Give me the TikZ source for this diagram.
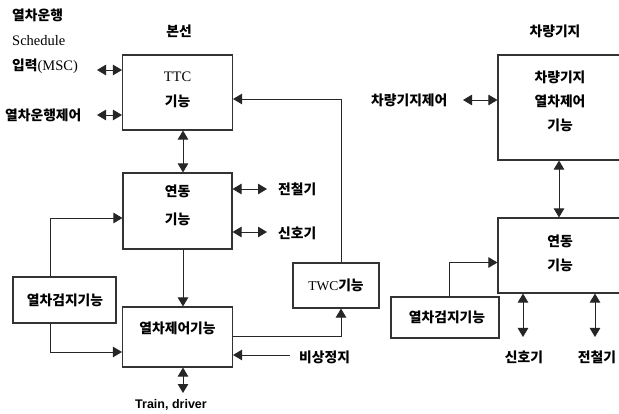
\documentclass[tikz,border=0pt]{standalone}
\usepackage{fontspec}
\setmainfont{Liberation Serif}
\newfontfamily\kr{Noto Sans CJK KR}
\newfontfamily\lsans{Liberation Sans}
\usetikzlibrary{arrows.meta}
\newcommand\krf{\kr\bfseries\fontsize{13.8}{15}\selectfont}
\begin{document}
\begin{tikzpicture}[x=1pt,y=-1pt,
  box/.style={draw=black!80,line width=1.1pt,inner sep=0pt},
  txt/.style={inner sep=0pt,font=\krf},
  ltxt/.style={inner sep=0pt,font=\fontsize{14.5}{16}\selectfont},
  arr/.style={draw=black!85,line width=0.9pt,-{Triangle[length=9pt,width=10.5pt]}},
  dbl/.style={draw=black!85,line width=0.9pt,{Triangle[length=9pt,width=10.5pt]}-{Triangle[length=9pt,width=10.5pt]}},
  ln/.style={draw=black!85,line width=0.9pt}]
\useasboundingbox (0,0) rectangle (619,414);
\clip (0,0) rectangle (619,414);

% ---------- left part ----------
\node[txt,anchor=west] (t1) at (12,15) {열차운행};
\node[ltxt,anchor=west] (t2) at (12,41) {Schedule};
\node[anchor=west,inner sep=0pt] (t3) at (12,66) {\krf 입력\fontsize{14.5}{16}\selectfont\rmfamily\mdseries(MSC)};
\node[txt,anchor=west] (t4) at (5,115) {열차운행제어};
\node[txt] (bs) at (179,31) {본선};

\node[box,minimum width=110pt,minimum height=75pt] (ttc) at (177.5,92.5) {};
\node[ltxt] (ttct) at (177.5,77) {TTC};
\node[txt] (ttcg) at (177.5,101) {기능};

\node[box,minimum width=109pt,minimum height=76pt] (yd) at (177.5,211) {};
\node[txt] (ydt) at (177.5,191) {연동};
\node[txt] (ydg) at (177.5,219) {기능};

\node[box,minimum width=103pt,minimum height=46pt] (dk) at (64.5,300) {};
\node[txt] (dkt) at (65,300) {열차검지기능};

\node[box,minimum width=110pt,minimum height=60pt] (tc) at (177.5,337) {};
\node[txt] (tct) at (177.5,328) {열차제어기능};

\node[box,minimum width=86pt,minimum height=45pt] (twc) at (336,285.5) {};
\node[inner sep=0pt] (twct) at (336,285) {\fontsize{13.5}{15}\selectfont TWC\krf 기능};

\node[txt,anchor=west] (jc1) at (278,189) {전철기};
\node[txt,anchor=west] (sh1) at (278,233) {신호기};
\node[txt,anchor=west] (bj) at (299,357) {비상정지};
\node[inner sep=0pt,font=\lsans\bfseries\fontsize{12.5}{14}\selectfont] (trd) at (171,405) {Train, driver};

\coordinate (c1) at (97,70);
\coordinate (c2) at (97,115);
\coordinate (c3) at (267,189);
\coordinate (c4) at (267,232);
\coordinate (c5) at (290,355);
\coordinate (c6) at (183,393);

\draw[dbl] (c1) -- (ttc.west |- c1);
\draw[dbl] (c2) -- (ttc.west |- c2);
\draw[arr] ([xshift=5pt]twc.north) |- ([yshift=-6.5pt]ttc.east);
\draw[dbl] ([xshift=5.5pt]ttc.south) -- ([xshift=5.5pt]yd.north);
\draw[dbl] (yd.east |- c3) -- (c3);
\draw[dbl] (yd.east |- c4) -- (c4);
\draw[arr] ([xshift=5.5pt]yd.south) -- ([xshift=5.5pt]tc.north);
\draw[arr] ([xshift=-14.5pt]dk.north) |- ([yshift=-7pt]yd.west);
\draw[arr] ([xshift=-14.5pt]dk.south) |- ([yshift=-15pt]tc.west);
\draw[arr] ([yshift=1pt]tc.east) -| ([xshift=5pt]twc.south);
\draw[arr] (c5) -- (tc.east |- c5);
\draw[dbl] ([xshift=5.5pt]tc.south) -- (c6);

% ---------- right part ----------
\node[txt] (cg) at (555,31) {차량기지};
\node[box,minimum width=126pt,minimum height=105pt] (rb1) at (561,107.5) {};
\node[txt] (rb1a) at (560,77) {차량기지};
\node[txt] (rb1b) at (560,101) {열차제어};
\node[txt] (rb1c) at (560,125) {기능};
\node[txt,anchor=west] (cgj) at (371,100) {차량기지제어};
\coordinate (c7) at (463,100);
\draw[dbl] (c7) -- (rb1.west |- c7);

\node[box,minimum width=126pt,minimum height=75pt] (rb2) at (561,255.5) {};
\node[txt] (rb2a) at (560,241) {연동};
\node[txt] (rb2b) at (560,265) {기능};
\draw[dbl] (rb1.south -| 559,0) -- (rb2.north -| 559,0);

\node[box,minimum width=108pt,minimum height=41pt] (dk2) at (445,317.5) {};
\node[txt] (dk2t) at (447,317) {열차검지기능};
\draw[arr] ([xshift=4pt]dk2.north) |- ([yshift=-7pt]rb2.west);

\coordinate (c8) at (523,337);
\coordinate (c9) at (595,337);
\draw[dbl] (rb2.south -| c8) -- (c8);
\draw[dbl] (rb2.south -| c9) -- (c9);
\node[txt] (sh2) at (524,357) {신호기};
\node[txt] (jc2) at (597,357) {전철기};
\end{tikzpicture}
\end{document}
